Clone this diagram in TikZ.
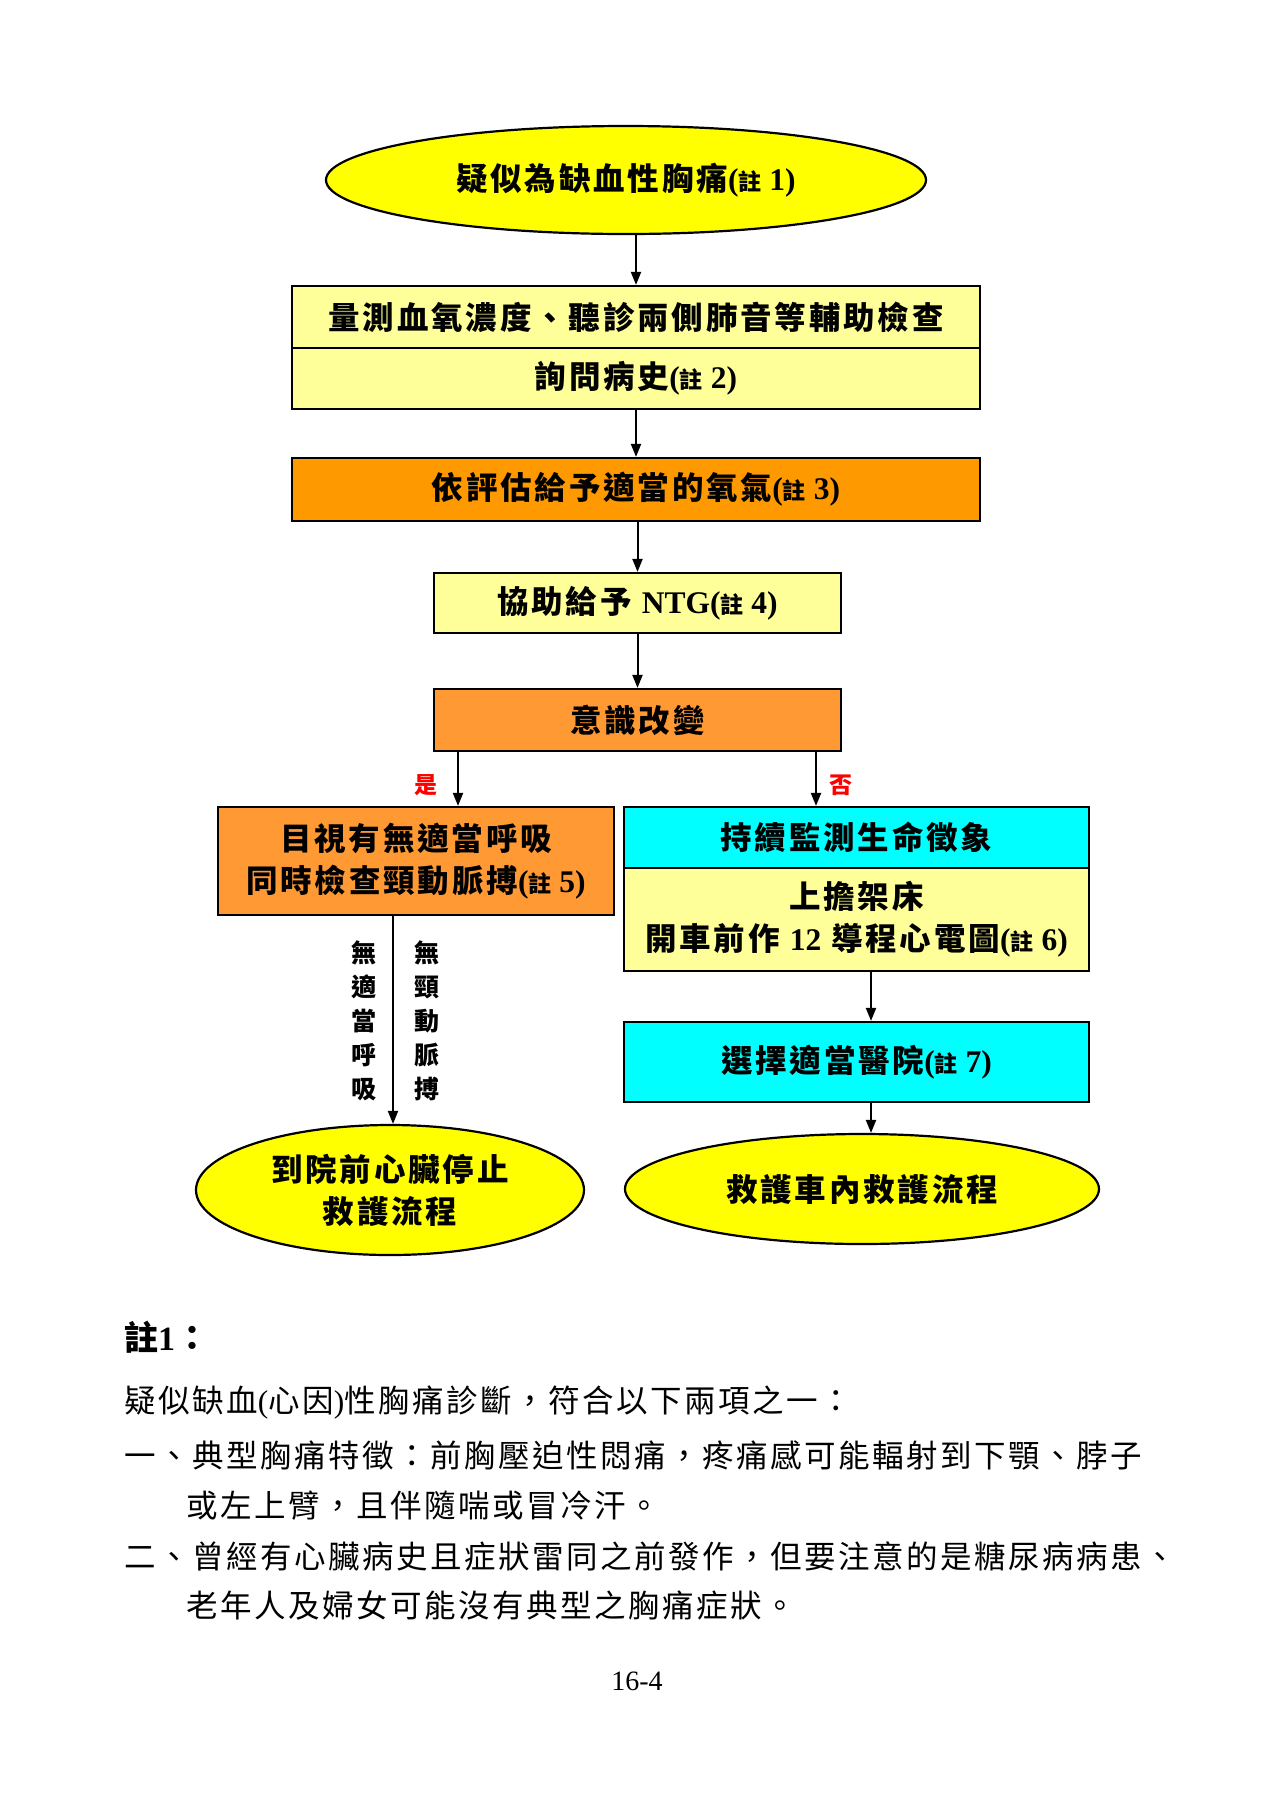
\documentclass[tikz,border=0pt]{standalone}
\usepackage{fontspec}
\setmainfont{Liberation Serif}
\newfontfamily\cjk{Noto Sans CJK TC}[LetterSpace=9]
\newfontfamily\cjkt{Noto Sans CJK TC}[LetterSpace=8]
\newfontfamily\cjkn{Noto Sans CJK TC}
\usetikzlibrary{arrows.meta,shapes.geometric}

\definecolor{ylw}{HTML}{FFFF00}
\definecolor{lyl}{HTML}{FFFF99}
\definecolor{org}{HTML}{FF9900}
\definecolor{lor}{HTML}{FF9933}
\definecolor{cyn}{HTML}{00FFFF}

\newcommand\boxfont{\fontsize{31.5}{42}\selectfont\bfseries\cjk}
\newcommand\bodyfont{\fontsize{31.5}{34}\selectfont\cjkt}
% "(註 n)" reference mark: Latin in Times-like bold, small CJK glyph
\newcommand\nt[1]{{\rmfamily(}{\cjkn\fontsize{23}{24}\selectfont 註}{\rmfamily~#1)}}

\tikzset{
  box/.style={draw=black, line width=2.2pt, rectangle, inner sep=0pt,
    align=center, font=\boxfont},
  oval/.style={draw=black, line width=2.2pt, ellipse, inner sep=0pt,
    fill=ylw, align=center, font=\boxfont},
  arr/.style={line width=2pt, -{Triangle[length=13pt,width=10pt]}},
  yesno/.style={text=red, inner sep=0pt, font=\fontsize{23}{24}\selectfont\bfseries\cjkn},
  vtext/.style={inner sep=0pt, align=center, font=\fontsize{25}{34}\selectfont\bfseries\cjkn},
  body/.style={anchor=west, inner sep=0pt, font=\bodyfont},
}

\begin{document}
\begin{tikzpicture}[x=1pt,y=-1pt]
\useasboundingbox (0,0) rectangle (1272,1800);
\fill[white] (0,0) rectangle (1272,1800);

% main column
\node[oval, minimum width=600pt, minimum height=108pt] (e1) at (626,180)
  {疑似為缺血性胸痛\nt{1}};
\node[box, fill=lyl, minimum width=688pt, minimum height=62pt] (b2a) at (636,317)
  {量測血氧濃度、聽診兩側肺音等輔助檢查};
\node[box, fill=lyl, minimum width=688pt, minimum height=61pt] (b2b) at (636,378.5)
  {詢問病史\nt{2}};
\node[box, fill=org, minimum width=688pt, minimum height=63pt] (b3) at (636,489.5)
  {依評估給予適當的氧氣\nt{3}};
\node[box, fill=lyl, minimum width=407pt, minimum height=60pt] (b4) at (637.5,603)
  {協助給予 {\rmfamily NTG}\nt{4}};
\node[box, fill=lor, minimum width=407pt, minimum height=62pt] (b5) at (637.5,720)
  {意識改變};

% left branch
\node[box, fill=lor, minimum width=396pt, minimum height=108pt] (lb) at (416,861)
  {目視有無適當呼吸\\同時檢查頸動脈搏\nt{5}};
\node[oval, minimum width=388pt, minimum height=130pt] (e2) at (390,1190)
  {到院前心臟停止\\救護流程};

% right branch
\node[box, fill=cyn, minimum width=465pt, minimum height=61pt] (rc) at (856.5,837.5)
  {持續監測生命徵象};
\node[box, fill=lyl, minimum width=465pt, minimum height=103pt] (ry) at (856.5,919.5)
  {上擔架床\\開車前作 {\rmfamily 12} 導程心電圖\nt{6}};
\node[box, fill=cyn, minimum width=465pt, minimum height=80pt] (sel) at (856.5,1062)
  {選擇適當醫院\nt{7}};
\node[oval, minimum width=474pt, minimum height=110pt] (e3) at (862,1189)
  {救護車內救護流程};

% connectors
\coordinate (xl) at (458,0);
\coordinate (xr) at (816,0);
\coordinate (xd) at (393,0);
\coordinate (xs) at (871,0);
\draw[arr] (e1.south -| b2a.north) -- (b2a.north);
\draw[arr] (b2b.south) -- (b3.north);
\draw[arr] (b3.south -| b4.north) -- (b4.north);
\draw[arr] (b4.south) -- (b5.north);
\draw[arr] (b5.south -| xl) -- (lb.north -| xl);
\draw[arr] (b5.south -| xr) -- (rc.north -| xr);
\draw[arr] (lb.south -| xd) -- (e2.north -| xd);
\draw[arr] (ry.south -| xs) -- (sel.north -| xs);
\draw[arr] (sel.south -| xs) -- (e3.north -| xs);

\node[yesno] (yes) at (426,785) {是};
\node[yesno] (no) at (841,785) {否};

\node[vtext] (v1) at (364,1021) {無\\適\\當\\呼\\吸};
\node[vtext] (v2) at (427,1021) {無\\頸\\動\\脈\\搏};

% note 1
\node[anchor=west, inner sep=0pt, font=\fontsize{34}{36}\selectfont\bfseries] (n0) at (124,1337)
  {{\cjkn 註}1{\cjkn ：}};
\node[body] (n1) at (124,1403) {疑似缺血{\rmfamily(}心因{\rmfamily)}性胸痛診斷，符合以下兩項之一：};
\node[body] (n2) at (124,1456) {一、典型胸痛特徵：前胸壓迫性悶痛，疼痛感可能輻射到下顎、脖子};
\node[body] (n3) at (186,1506) {或左上臂，且伴隨喘或冒冷汗。};
\node[body] (n4) at (124,1556) {二、曾經有心臟病史且症狀雷同之前發作，但要注意的是糖尿病病患、};
\node[body] (n5) at (186,1605) {老年人及婦女可能沒有典型之胸痛症狀。};

\node[inner sep=0pt, font=\fontsize{28}{30}\selectfont] (pg) at (637,1681) {16-4};
\end{tikzpicture}
\end{document}
